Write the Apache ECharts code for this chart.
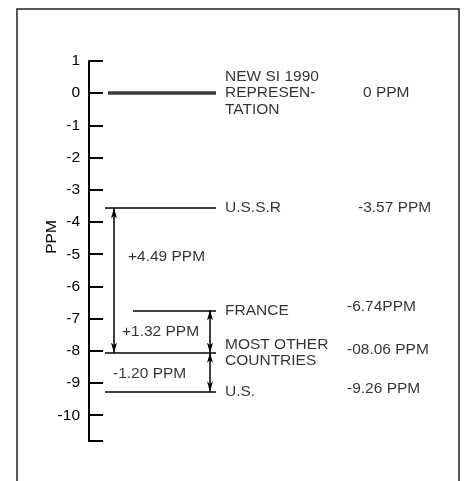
<!DOCTYPE html>
<html><head><meta charset="utf-8">
<script src="https://cdn.jsdelivr.net/npm/echarts@6/dist/echarts.min.js"></script>
<style>html,body{margin:0;padding:0;background:#fff}#c{width:469px;height:481px}</style>
</head><body><div id="c"></div>
<script>
// ---- data ----
const categories = ['NEW SI 1990\nREPRESEN-\nTATION', 'U.S.S.R', 'FRANCE', 'MOST OTHER\nCOUNTRIES', 'U.S.'];
const values = [0, -3.57, -6.74, -8.06, -9.26];
const valueLabels = ['0 PPM', '-3.57 PPM', '-6.74PPM', '-08.06 PPM', '-9.26 PPM'];
const tickValues = [1, 0, -1, -2, -3, -4, -5, -6, -7, -8, -9, -10];
// differences shown with arrows: [from index, to index]
const diffPairs = [[1, 3], [2, 3], [4, 3]];

// ---- layout (pixels / styling only) ----
const FONT = '"Liberation Sans", Arial, Helvetica, sans-serif';
const GL = 89, GT = 61, GW = 370, GH = 380;
const AXIS_MIN = -10.8, AXIS_MAX = 1;
const lineStartPx = [108, 105, 133, 105, 105];
const lineEndPx = 216;
const lineWidths = [3.5, 1.5, 1.5, 1.5, 1.5];
const lineColors = ['#3a3a3a', '#000', '#000', '#000', '#000'];
const catLabelPx = 225;
const valLabelPx = [363, 358, 347, 347, 347];
const valLabelDy = [0, 0, -4, -3, -3];
const arrowPx = [114, 210, 210];
const diffLabelPx = [128, 122, 113];
const diffLabelPos = [-5.09, -7.42, -8.72];
const INK = '#000';

const X = px => px - GL;
const fmtDiff = d => (d >= 0 ? '+' : '-') + Math.abs(d).toFixed(2) + ' PPM';

const chart = echarts.init(document.getElementById('c'), null, {renderer: 'canvas'});

const hLines = values.map((v, i) => ({
  coords: [[X(lineStartPx[i]), v], [X(lineEndPx), v]],
  lineStyle: {width: lineWidths[i], color: lineColors[i], opacity: 1}
}));

const catData = values.map((v, i) => ({value: [X(catLabelPx), v], name: categories[i]}));
const valData = values.map((v, i) => ({
  value: [X(valLabelPx[i]), v],
  name: valueLabels[i],
  label: {offset: [0, valLabelDy[i]]}
}));
const arrowData = diffPairs.map((p, k) => [X(arrowPx[k]), values[p[0]], values[p[1]]]);
const diffData = diffPairs.map((p, k) => ({
  value: [X(diffLabelPx[k]), diffLabelPos[k]],
  name: fmtDiff(values[p[0]] - values[p[1]])
}));

const textLabel = {
  show: true, position: 'right', distance: 0, color: INK,
  fontFamily: FONT, fontSize: 15.5, lineHeight: 16.5,
  formatter: p => p.name
};

function arrowHead(tip, dir) {
  const L = 10, W = 3;
  return {
    type: 'polygon',
    shape: {points: [[tip[0], tip[1]], [tip[0] - W, tip[1] - dir * L], [tip[0], tip[1] - dir * L * 0.75], [tip[0] + W, tip[1] - dir * L]]},
    style: {fill: INK}
  };
}

const option = {
  animation: false,
  backgroundColor: '#fff',
  grid: {left: GL, top: GT, width: GW, height: GH, containLabel: false},
  xAxis: {type: 'value', min: 0, max: GW, show: false},
  yAxis: {
    type: 'value', min: AXIS_MIN, max: AXIS_MAX,
    axisLine: {show: true, onZero: false, lineStyle: {color: INK, width: 2}},
    axisTick: {show: true, inside: true, length: 14, lineStyle: {color: INK, width: 2},
      customValues: tickValues.concat([AXIS_MIN])},
    axisLabel: {customValues: tickValues, margin: 9, fontSize: 15.5, color: INK, fontFamily: FONT},
    splitLine: {show: false}
  },
  graphic: [
    {type: 'rect', z: -1, shape: {x: 17, y: 9, width: 442, height: 500},
      style: {fill: 'none', stroke: '#222', lineWidth: 1.5}},
    {type: 'text', x: 52, y: 237, rotation: Math.PI / 2,
      style: {text: 'PPM', align: 'center', verticalAlign: 'middle', fontSize: 15.5, fontFamily: FONT, fill: INK}}
  ],
  series: [
    {type: 'lines', coordinateSystem: 'cartesian2d', polyline: false, symbol: 'none',
      lineStyle: {opacity: 1}, data: hLines, silent: true},
    {type: 'custom', data: arrowData, silent: true,
      renderItem: (params, api) => {
        const a = api.coord([api.value(0), api.value(1)]);
        const b = api.coord([api.value(0), api.value(2)]);
        const dirB = b[1] > a[1] ? 1 : -1;
        return {type: 'group', children: [
          {type: 'line', shape: {x1: a[0], y1: a[1], x2: b[0], y2: b[1]}, style: {stroke: INK, lineWidth: 1.5}},
          arrowHead(a, -dirB),
          arrowHead(b, dirB)
        ]};
      }},
    {type: 'scatter', symbolSize: 0, data: catData, label: textLabel, silent: true},
    {type: 'scatter', symbolSize: 0, data: valData, label: textLabel, silent: true},
    {type: 'scatter', symbolSize: 0, data: diffData, label: textLabel, silent: true}
  ]
};
chart.setOption(option);
</script>
</body></html>
